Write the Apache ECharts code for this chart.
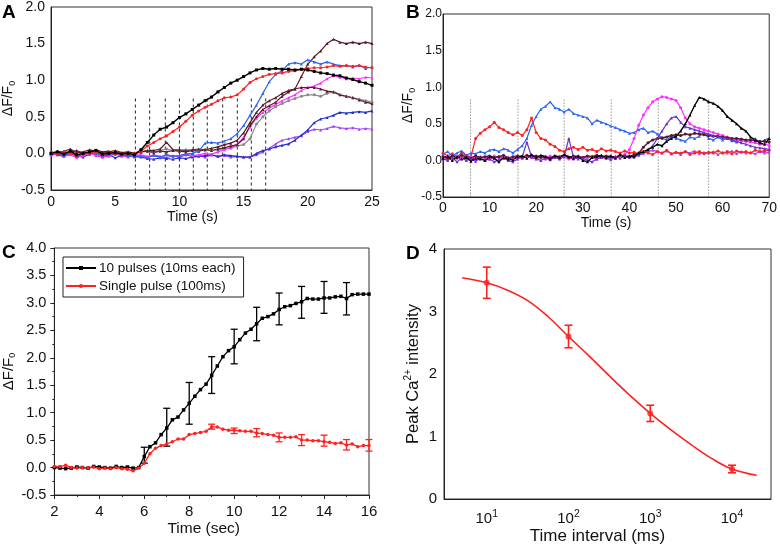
<!DOCTYPE html>
<html><head><meta charset="utf-8">
<script src="https://cdn.jsdelivr.net/npm/echarts@6/dist/echarts.min.js"></script>
<style>html,body{margin:0;padding:0;background:#fff}#c{width:780px;height:546px}</style>
</head><body><div id="c"></div>
<script>
// ---------- Panel A ----------
const timeA = [0,0.5,1,1.5,2,2.5,3,3.5,4,4.5,5,5.5,6,6.5,7,7.5,8,8.5,9,9.5,10,10.5,11,11.5,12,12.5,13,13.5,14,14.5,15,15.5,16,16.5,17,17.5,18,18.5,19,19.5,20,20.5,21,21.5,22,22.5,23,23.5,24,24.5,25];
const aBlack = [0.0,0.02,-0.01,0.03,-0.02,0.0,0.02,0.04,-0.01,0.0,0.01,-0.01,0.0,-0.02,
  0.05,0.15,0.25,0.33,0.36,0.42,0.49,0.54,0.6,0.66,0.72,0.77,0.84,0.9,0.96,1.0,1.05,1.1,1.14,1.16,1.15,1.16,1.15,1.15,1.14,1.15,1.14,1.12,1.1,1.09,1.07,1.06,1.03,1.01,0.98,0.96,0.93];
const aRed = [0.01,-0.02,0.02,0.0,-0.03,0.01,0.0,0.02,-0.02,0.01,-0.01,0.0,-0.01,0.0,
  0.03,0.1,0.15,0.2,0.24,0.3,0.36,0.44,0.52,0.58,0.63,0.67,0.72,0.76,0.77,0.8,0.88,0.97,1.02,1.05,1.08,1.09,1.1,1.12,1.13,1.15,1.16,1.17,1.17,1.18,1.2,1.19,1.2,1.19,1.2,1.18,1.17];
const aBlue = [-0.02,0.01,-0.03,0.02,-0.04,-0.01,0.02,0.0,-0.03,-0.01,0.0,-0.02,-0.04,-0.03,
  -0.04,-0.06,-0.03,-0.05,-0.02,-0.04,-0.03,-0.01,0.0,0.03,0.14,0.15,0.14,0.17,0.2,0.27,0.38,0.52,0.66,0.82,0.98,1.08,1.13,1.22,1.24,1.22,1.28,1.25,1.22,1.25,1.22,1.2,1.2,1.18,1.2,1.16,1.18];
const aMaroon1 = [0.02,0.0,0.03,0.06,0.01,0.02,0.05,0.03,0.0,0.02,0.04,0.01,0.02,0.0,
  0.02,0.04,0.04,0.06,0.15,0.05,0.05,0.04,0.05,0.06,0.05,0.07,0.09,0.12,0.14,0.18,0.28,0.42,0.56,0.66,0.72,0.76,0.82,0.86,0.88,0.9,0.9,0.9,0.88,0.85,0.84,0.8,0.78,0.76,0.73,0.7,0.68];
const aMaroon2 = [0.0,0.03,0.01,0.02,0.04,0.0,0.02,0.05,0.02,0.03,0.0,0.01,-0.01,0.01,
  0.02,0.03,0.01,0.03,0.02,0.04,0.03,0.02,0.04,0.03,0.05,0.04,0.06,0.08,0.1,0.12,0.2,0.38,0.5,0.6,0.65,0.7,0.78,0.84,0.88,1.05,1.22,1.32,1.4,1.5,1.56,1.52,1.5,1.52,1.5,1.52,1.5];
const aMagenta = [-0.03,0.0,-0.04,-0.02,-0.06,-0.03,0.0,-0.02,-0.05,-0.04,-0.01,-0.03,-0.05,-0.02,
  -0.02,-0.04,-0.03,-0.05,-0.02,-0.04,-0.03,-0.01,-0.03,-0.02,0.0,-0.01,0.02,0.05,0.08,0.12,0.22,0.36,0.48,0.56,0.62,0.67,0.72,0.76,0.8,0.86,0.9,0.92,0.96,1.02,1.06,1.04,1.02,1.03,1.02,1.04,1.03];
const aGray = [0.01,-0.01,0.02,0.0,0.03,-0.01,0.01,0.02,0.0,-0.02,0.01,0.0,0.02,0.0,
  0.02,0.03,0.02,0.04,0.06,0.04,0.03,0.05,0.04,0.03,0.05,0.04,0.05,0.06,0.07,0.1,0.12,0.2,0.4,0.5,0.58,0.64,0.68,0.72,0.75,0.78,0.8,0.8,0.78,0.82,0.84,0.8,0.78,0.76,0.74,0.72,0.7];
const aViolet = [-0.02,0.01,-0.03,0.0,-0.04,-0.02,0.01,-0.03,-0.05,-0.02,0.0,-0.04,-0.03,-0.05,
  -0.03,-0.05,-0.02,-0.04,-0.06,-0.03,-0.05,-0.02,-0.04,-0.03,-0.05,-0.02,-0.04,-0.03,-0.05,-0.04,-0.05,-0.05,-0.02,0.02,0.07,0.13,0.18,0.2,0.22,0.24,0.3,0.33,0.32,0.34,0.37,0.35,0.34,0.35,0.33,0.34,0.33];
const aDarkBlue = [0.0,-0.02,-0.04,0.01,-0.03,-0.05,-0.01,0.02,-0.04,-0.02,-0.06,-0.03,-0.02,-0.04,
  -0.05,-0.07,-0.08,-0.06,-0.07,-0.08,-0.06,-0.07,-0.05,-0.04,-0.03,-0.02,-0.04,-0.02,-0.03,-0.04,-0.05,-0.05,0.0,0.04,0.06,0.09,0.11,0.13,0.18,0.25,0.32,0.42,0.47,0.49,0.52,0.56,0.55,0.56,0.57,0.56,0.58];
const pulsesA = [6.57,7.68,8.9,10.0,11.08,12.17,13.37,14.51,15.6,16.72];
const pulseTopA = 0.75;

// ---------- Panel B ----------
const timeB = [0,1,2,3,4,5,6,7,8,9,10,11,12,13,14,15,16,17,18,19,20,21,22,23,24,25,26,27,28,29,30,31,32,33,34,35,36,37,38,39,40,41,42,43,44,45,46,47,48,49,50,51,52,53,54,55,56,57,58,59,60,61,62,63,64,65,66,67,68,69,70];
const bRed = [0.1,0.06,0.09,0.05,0.1,0.07,0.05,0.3,0.37,0.42,
  0.46,0.52,0.45,0.42,0.38,0.35,0.38,0.34,0.42,0.58,
  0.38,0.3,0.28,0.22,0.19,0.14,0.12,0.16,0.18,0.15,
  0.18,0.14,0.15,0.12,0.16,0.13,0.14,0.12,0.1,0.13,
  0.1,0.11,0.09,0.12,0.1,0.08,0.12,0.1,0.14,0.09,
  0.11,0.1,0.12,0.08,0.1,0.12,0.09,0.11,0.1,0.13,
  0.1,0.12,0.09,0.13,0.11,0.12,0.1,0.14,0.12,0.13,0.14];
const bBlue = [0.08,0.12,0.06,0.1,0.13,0.07,0.1,0.09,0.12,0.1,
  0.14,0.15,0.12,0.16,0.14,0.1,0.15,0.2,0.3,0.48,
  0.6,0.7,0.74,0.8,0.72,0.7,0.66,0.7,0.64,0.62,
  0.6,0.58,0.5,0.55,0.52,0.5,0.47,0.45,0.42,0.4,
  0.37,0.38,0.42,0.44,0.38,0.4,0.36,0.3,0.28,0.33,
  0.3,0.28,0.26,0.32,0.3,0.33,0.38,0.3,0.28,0.32,
  0.28,0.3,0.27,0.25,0.3,0.27,0.26,0.3,0.24,0.28,0.3];
const bMagenta = [0.04,0.06,0.02,0.05,0.03,0.06,0.04,0.02,0.05,0.03,
  0.04,0.06,0.03,0.05,0.02,0.04,0.06,0.03,0.05,0.04,
  0.02,0.05,0.03,0.06,0.04,0.03,0.05,0.02,0.04,0.06,
  0.03,0.05,0.04,0.02,0.05,0.03,0.06,0.04,0.05,0.08,
  0.15,0.3,0.48,0.62,0.72,0.8,0.84,0.87,0.86,0.84,
  0.82,0.72,0.58,0.5,0.46,0.44,0.42,0.4,0.38,0.36,
  0.34,0.32,0.3,0.28,0.27,0.26,0.25,0.24,0.22,0.23,0.2];
const bPurple = [0.02,0.0,0.04,-0.02,0.03,0.0,0.02,-0.01,0.03,0.0,
  0.02,-0.02,0.01,0.03,0.0,-0.02,0.02,0.05,0.25,0.05,
  0.02,0.0,0.03,0.01,0.04,0.02,0.05,0.3,0.04,0.02,
  0.03,0.0,-0.02,0.02,0.04,0.03,0.01,0.05,0.03,0.06,
  0.04,0.05,0.07,0.1,0.14,0.2,0.3,0.4,0.5,0.58,
  0.6,0.52,0.46,0.44,0.42,0.4,0.38,0.36,0.34,0.33,
  0.31,0.3,0.28,0.26,0.24,0.22,0.2,0.18,0.17,0.16,0.15];
const bMaroon = [0.05,0.03,0.06,0.04,0.07,0.05,0.03,0.06,0.04,0.05,
  0.06,0.04,0.05,0.07,0.03,0.05,0.06,0.04,0.07,0.05,
  0.06,0.04,0.05,0.03,0.06,0.05,0.07,0.04,0.06,0.05,
  0.04,0.06,0.05,0.07,0.04,0.06,0.05,0.04,0.07,0.06,
  0.05,0.08,0.1,0.18,0.24,0.28,0.3,0.31,0.32,0.34,
  0.35,0.34,0.36,0.35,0.37,0.36,0.35,0.34,0.33,0.33,
  0.32,0.31,0.3,0.3,0.29,0.28,0.28,0.27,0.26,0.26,0.25];
const bViolet = [0.05,0.02,0.06,0.03,0.05,0.02,0.04,0.06,0.03,0.05,
  0.02,0.04,0.06,0.03,0.05,0.02,0.04,0.03,0.06,0.04,
  0.03,0.05,0.02,0.04,0.06,0.03,0.05,0.04,0.02,0.05,
  0.04,0.03,0.06,0.02,0.05,0.04,0.03,0.06,0.04,0.05,
  0.06,0.05,0.08,0.1,0.12,0.14,0.12,0.1,0.13,0.09,
  0.11,0.08,0.12,0.1,0.13,0.09,0.11,0.1,0.12,0.08,
  0.11,0.1,0.13,0.09,0.12,0.1,0.11,0.09,0.12,0.1,0.11];
const bBlack = [0.03,0.06,0.0,0.05,0.02,0.04,-0.01,0.03,0.02,0.0,
  0.05,0.03,-0.02,0.04,0.02,0.01,0.05,0.06,0.03,0.08,
  0.04,0.07,0.05,0.02,0.06,0.04,0.08,0.05,0.03,0.06,
  0.0,-0.02,0.04,0.05,0.07,0.04,0.06,0.03,0.08,0.04,
  0.06,0.05,0.1,0.12,0.15,0.18,0.22,0.2,0.26,0.3,
  0.33,0.4,0.5,0.62,0.75,0.86,0.84,0.8,0.78,0.74,
  0.68,0.6,0.55,0.5,0.44,0.4,0.32,0.28,0.24,0.22,0.3];
const pulsesB = [5.9,16.1,26.0,36.1,46.2,57.0];
const pulseTopB = 0.83;

// ---------- Panel C ----------
const timeC = [2,2.25,2.5,2.75,3,3.25,3.5,3.75,4,4.25,4.5,4.75,5,5.25,5.5,5.75,6,6.25,6.5,6.75,7,7.25,7.5,7.75,8,8.25,8.5,8.75,9,9.25,9.5,9.75,10,10.25,10.5,10.75,11,11.25,11.5,11.75,12,12.25,12.5,12.75,13,13.25,13.5,13.75,14,14.25,14.5,14.75,15,15.25,15.5,15.75,16];
const cTenPulses = [0.0,-0.01,-0.02,-0.01, 0.01,0.0,-0.01,0.02, 0.01,0.0,-0.01,0.02, 0.0,0.01,-0.01,0.0,
  0.2,0.38,0.45,0.6, 0.72,0.87,0.92,1.05, 1.17,1.3,1.42,1.52, 1.68,1.85,2.02,2.13, 2.2,2.33,2.45,2.52,
  2.62,2.72,2.75,2.8, 2.88,2.93,2.95,2.99, 3.02,3.08,3.07,3.07, 3.09,3.09,3.11,3.12, 3.08,3.15,3.16,3.16, 3.16];
const cSingle = [0.02,0.02,0.04,0.0, -0.01,0.0,-0.01,0.01, -0.02,-0.01,-0.02,0.0, -0.02,-0.03,-0.06,-0.01,
  0.08,0.25,0.35,0.4, 0.43,0.47,0.52,0.52, 0.6,0.62,0.64,0.66, 0.74,0.74,0.7,0.68, 0.68,0.67,0.66,0.66,
  0.63,0.62,0.6,0.59, 0.55,0.55,0.55,0.56, 0.5,0.5,0.49,0.49, 0.47,0.46,0.44,0.45, 0.41,0.43,0.38,0.4, 0.4];
const cErrTimes = [6,7,8,9,10,11,12,13,14,15];
const cTenLow  = [0.08,0.39,0.79,1.35,1.89,2.31,2.6,2.72,2.81,2.78];
const cTenHigh = [0.37,1.08,1.55,2.02,2.52,2.92,3.18,3.3,3.39,3.37];
const cSingleErrTimes = [9,10,11,12,13,14,15,16];
const cSingleLow  = [0.7,0.62,0.56,0.47,0.4,0.39,0.32,0.3];
const cSingleHigh = [0.79,0.72,0.71,0.63,0.6,0.59,0.51,0.51];

// ---------- Panel D ----------
const intervalsD = [10,100,1000,10000];
const peakD = [3.46,2.6,1.37,0.48];
const errD = [0.25,0.18,0.13,0.06];
const fitX = [5,10,18,32,56,100,178,316,562,1000,1778,3162,5623,10000,20000];
const fitY = [3.54,3.46,3.34,3.17,2.92,2.6,2.29,1.97,1.66,1.37,1.11,0.87,0.65,0.48,0.38];

// ---------- helpers ----------
const FONT = 'Liberation Sans, Arial, Helvetica, sans-serif';
const zip = (xs, ys) => xs.map((x, i) => [x, ys[i]]);
const zip3 = (xs, a, b) => xs.map((x, i) => [x, a[i], b[i]]);

function errRender(capHalf, color, lw) {
  return function (params, api) {
    const x = api.value(0), lo = api.value(1), hi = api.value(2);
    const a = api.coord([x, hi]), b = api.coord([x, lo]);
    const st = { stroke: color, lineWidth: lw };
    return { type: 'group', children: [
      { type: 'line', shape: { x1: a[0], y1: a[1], x2: b[0], y2: b[1] }, style: st },
      { type: 'line', shape: { x1: a[0] - capHalf, y1: a[1], x2: a[0] + capHalf, y2: a[1] }, style: st },
      { type: 'line', shape: { x1: b[0] - capHalf, y1: b[1], x2: b[0] + capHalf, y2: b[1] }, style: st }
    ]};
  };
}
function pulseRender(yBottom, color, dash) {
  return function (params, api) {
    const x = api.value(0), top = api.value(1);
    const a = api.coord([x, top]), b = api.coord([x, yBottom]);
    return { type: 'line', shape: { x1: a[0], y1: a[1], x2: b[0], y2: b[1] },
      style: { stroke: color, lineWidth: 1, lineDash: dash } };
  };
}
function lineSeries(name, xi, yi, xs, ys, color, symbol, size, lw) {
  return { name, type: 'line', xAxisIndex: xi, yAxisIndex: yi, data: zip(xs, ys),
    symbol: symbol, symbolSize: size, showSymbol: true, animation: false,
    lineStyle: { color, width: lw }, itemStyle: { color } };
}
const axisLineStyle = { show: true, onZero: false, lineStyle: { color: '#222', width: 1 } };
const subRich = { sub: { fontSize: 9, verticalAlign: 'bottom', padding: [9, 0, 0, 0], fontFamily: FONT, color: '#111' } };

const option = {
  backgroundColor: '#fff',
  animation: false,
  textStyle: { fontFamily: FONT },
  grid: [
    { left: 51, top: 6, width: 321, height: 184, show: true, borderColor: '#333', borderWidth: 1 },
    { left: 443, top: 14, width: 328, height: 183, show: true, borderColor: '#333', borderWidth: 1 },
    { left: 53, top: 248, width: 316, height: 247, show: true, borderColor: '#333', borderWidth: 1 },
    { left: 444, top: 249, width: 327, height: 250, show: true, borderColor: '#333', borderWidth: 1 }
  ],
  xAxis: [
    { gridIndex: 0, type: 'value', min: 0, max: 25, interval: 5, splitLine: { show: false },
      axisLine: axisLineStyle, axisTick: { show: false },
      axisLabel: { fontSize: 14, color: '#111', margin: 5 },
      name: 'Time (s)', nameLocation: 'middle', nameGap: 18,
      nameTextStyle: { fontSize: 14, color: '#111', verticalAlign: 'top', padding: [0, 38, 0, 0] } },
    { gridIndex: 1, type: 'value', min: 0, max: 70, interval: 10, splitLine: { show: false },
      axisLine: axisLineStyle, axisTick: { show: false },
      axisLabel: { fontSize: 14, color: '#111', margin: 4 },
      name: 'Time (s)', nameLocation: 'middle', nameGap: 13,
      nameTextStyle: { fontSize: 14, color: '#111', verticalAlign: 'top' } },
    { gridIndex: 2, type: 'value', min: 2, max: 16, interval: 2, splitLine: { show: false },
      axisLine: axisLineStyle, axisTick: { show: true, inside: false, length: 4 },
      minorTick: { show: true, splitNumber: 2, length: 2 },
      axisLabel: { fontSize: 15, color: '#111', margin: 9 },
      name: 'Time (sec)', nameLocation: 'middle', nameGap: 26,
      nameTextStyle: { fontSize: 15.5, color: '#111', verticalAlign: 'top', padding: [0, 16, 0, 0] } },
    { gridIndex: 3, type: 'log', logBase: 10, min: 3, max: 30000, splitLine: { show: false },
      axisLine: axisLineStyle, axisTick: { show: false }, minorTick: { show: false },
      axisLabel: { fontSize: 15, color: '#111', margin: 10, showMinLabel: false, showMaxLabel: false,
        formatter: v => '10{sup|' + Math.round(Math.log10(v)) + '}',
        rich: { sup: { fontSize: 10.5, verticalAlign: 'top', padding: [0, 0, 9, 0], color: '#111', fontFamily: FONT } } },
      name: 'Time interval (ms)', nameLocation: 'middle', nameGap: 29,
      nameTextStyle: { fontSize: 17, color: '#111', verticalAlign: 'top', padding: [0, 20, 0, 0] } }
  ],
  yAxis: [
    { gridIndex: 0, type: 'value', min: -0.5, max: 2, interval: 0.5, splitLine: { show: false },
      axisLine: axisLineStyle, axisTick: { show: false },
      axisLabel: { fontSize: 14, color: '#111', margin: 6, formatter: v => v.toFixed(1) },
      name: '\u0394F/F{sub|0}', nameLocation: 'middle', nameGap: 31,
      nameTextStyle: { fontSize: 14, color: '#111', rich: subRich } },
    { gridIndex: 1, type: 'value', min: -0.5, max: 2, interval: 0.5, splitLine: { show: false },
      axisLine: axisLineStyle, axisTick: { show: false },
      axisLabel: { fontSize: 12, color: '#111', margin: 1, formatter: v => v.toFixed(1) },
      name: '\u0394F/F{sub|0}', nameLocation: 'middle', nameGap: 22,
      nameTextStyle: { fontSize: 14, color: '#111', rich: subRich } },
    { gridIndex: 2, type: 'value', min: -0.5, max: 4, interval: 0.5, splitLine: { show: false },
      axisLine: axisLineStyle, axisTick: { show: true, inside: false, length: 4 },
      minorTick: { show: true, splitNumber: 2, length: 2 },
      axisLabel: { fontSize: 14.5, color: '#111', margin: 8, formatter: v => v.toFixed(1) },
      name: '\u0394F/F{sub|0}', nameLocation: 'middle', nameGap: 33,
      nameTextStyle: { fontSize: 15, color: '#111', rich: subRich } },
    { gridIndex: 3, type: 'value', min: 0, max: 4, interval: 1, splitLine: { show: false },
      axisLine: axisLineStyle, axisTick: { show: false },
      axisLabel: { fontSize: 15, color: '#111', margin: 7 },
      name: 'Peak Ca{sup|2+} intensity', nameLocation: 'middle', nameGap: 21,
      nameTextStyle: { fontSize: 16.5, color: '#111',
        rich: { sup: { fontSize: 10, verticalAlign: 'top', padding: [0, 0, 10, 0], color: '#111', fontFamily: FONT } } } }
  ],
  legend: {
    data: ['10 pulses (10ms each)', 'Single pulse (100ms)'],
    orient: 'vertical', left: 63, top: 257,
    borderColor: '#222', borderWidth: 1, padding: [4, 8, 4, 2], itemGap: 4,
    itemWidth: 30, itemHeight: 5,
    textStyle: { fontSize: 13.5, color: '#111', fontFamily: FONT, padding: [0, 0, 0, -2] }
  },
  graphic: [
    { type: 'text', left: 2, top: 3, style: { text: 'A', font: 'bold 19px ' + FONT, fill: '#000' } },
    { type: 'text', left: 406, top: 3, style: { text: 'B', font: 'bold 19px ' + FONT, fill: '#000' } },
    { type: 'text', left: 2, top: 243, style: { text: 'C', font: 'bold 19px ' + FONT, fill: '#000' } },
    { type: 'text', left: 406, top: 244, style: { text: 'D', font: 'bold 19px ' + FONT, fill: '#000' } }
  ],
  series: [
    // A
    { type: 'custom', xAxisIndex: 0, yAxisIndex: 0, renderItem: pulseRender(-0.5, '#222', [3, 3]),
      data: pulsesA.map(x => [x, pulseTopA]), encode: { x: 0, y: 1 }, silent: true, z: 1 },
    lineSeries('A violet', 0, 0, timeA, aViolet, '#a040ff', 'triangle', 3, 1.2),
    lineSeries('A dark blue', 0, 0, timeA, aDarkBlue, '#2030c0', 'triangle', 3, 1.2),
    lineSeries('A gray', 0, 0, timeA, aGray, '#8a8a8a', 'circle', 3, 1.2),
    lineSeries('A magenta', 0, 0, timeA, aMagenta, '#ff30ff', 'triangle', 3, 1.2),
    lineSeries('A maroon 1', 0, 0, timeA, aMaroon1, '#5a1828', 'triangle', 3, 1.2),
    lineSeries('A maroon 2', 0, 0, timeA, aMaroon2, '#5a1828', 'triangle', 3, 1.2),
    lineSeries('A blue', 0, 0, timeA, aBlue, '#2a66f0', 'triangle', 3, 1.2),
    lineSeries('A red', 0, 0, timeA, aRed, '#ff2020', 'circle', 3, 1.2),
    lineSeries('A black', 0, 0, timeA, aBlack, '#000000', 'rect', 3, 1.4),
    // B
    { type: 'custom', xAxisIndex: 1, yAxisIndex: 1, renderItem: pulseRender(-0.5, '#666', [1, 2]),
      data: pulsesB.map(x => [x, pulseTopB]), encode: { x: 0, y: 1 }, silent: true, z: 1 },
    lineSeries('B violet', 1, 1, timeB, bViolet, '#b040f0', 'triangle', 3, 1.2),
    lineSeries('B red', 1, 1, timeB, bRed, '#ff2020', 'circle', 3, 1.2),
    lineSeries('B blue', 1, 1, timeB, bBlue, '#2a66f0', 'triangle', 3, 1.2),
    lineSeries('B magenta', 1, 1, timeB, bMagenta, '#ff30ff', 'circle', 3, 1.2),
    lineSeries('B maroon', 1, 1, timeB, bMaroon, '#5a1828', 'circle', 3, 1.4),
    lineSeries('B purple', 1, 1, timeB, bPurple, '#6a30d0', 'triangle', 3, 1.2),
    lineSeries('B black', 1, 1, timeB, bBlack, '#000000', 'triangle', 3, 1.4),
    // C
    lineSeries('10 pulses (10ms each)', 2, 2, timeC, cTenPulses, '#000000', 'rect', 3.5, 1.3),
    lineSeries('Single pulse (100ms)', 2, 2, timeC, cSingle, '#ff2020', 'circle', 3.5, 1.3),
    { type: 'custom', xAxisIndex: 2, yAxisIndex: 2, renderItem: errRender(3.5, '#000', 1.3),
      data: zip3(cErrTimes, cTenLow, cTenHigh), encode: { x: 0, y: [1, 2] }, silent: true, z: 3 },
    { type: 'custom', xAxisIndex: 2, yAxisIndex: 2, renderItem: errRender(3.5, '#ff2020', 1.3),
      data: zip3(cSingleErrTimes, cSingleLow, cSingleHigh), encode: { x: 0, y: [1, 2] }, silent: true, z: 3 },
    // D
    { name: 'fit', type: 'line', xAxisIndex: 3, yAxisIndex: 3, data: zip(fitX, fitY), smooth: 0.4,
      showSymbol: false, symbol: 'none', lineStyle: { color: '#ff2020', width: 1.6 } },
    { type: 'custom', xAxisIndex: 3, yAxisIndex: 3, renderItem: errRender(4, '#ff2020', 1.6),
      data: intervalsD.map((x, i) => [x, peakD[i] - errD[i], peakD[i] + errD[i]]), encode: { x: 0, y: [1, 2] }, silent: true, z: 3 },
    { name: 'peak', type: 'scatter', xAxisIndex: 3, yAxisIndex: 3, data: zip(intervalsD, peakD),
      symbol: 'circle', symbolSize: 6, itemStyle: { color: '#ff2020' }, z: 4 }
  ]
};
const chart = echarts.init(document.getElementById('c'), null, { renderer: 'canvas' });
chart.setOption(option);
</script></body></html>
